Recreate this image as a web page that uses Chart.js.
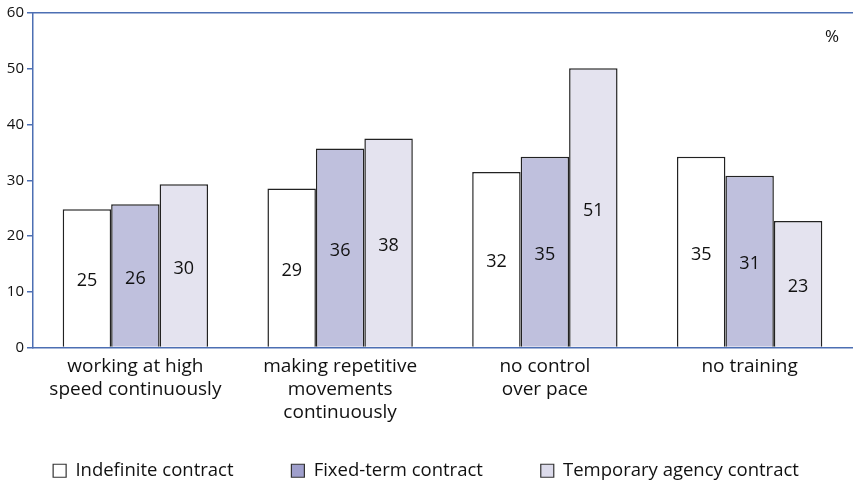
<!DOCTYPE html>
<html>
<head>
<meta charset="utf-8">
<script src="https://cdn.jsdelivr.net/npm/chart.js@4/dist/chart.umd.min.js"></script>
<style>
  html, body { margin: 0; padding: 0; background: #fff; }
  #wrap { width: 854px; height: 486px; }
</style>
</head>
<body>
<div id="wrap"><canvas id="bars"></canvas></div>
<script>
const categories = [
  ['working at high', 'speed continuously'],
  ['making repetitive', 'movements', 'continuously'],
  ['no control', 'over pace'],
  ['no training']
];
const seriesNames = ['Indefinite contract', 'Fixed-term contract', 'Temporary agency contract'];
// bar heights as drawn
const indefinite = [24.8, 28.5, 31.5, 34.2];
const fixedTerm = [25.7, 35.7, 34.2, 30.8];
const agency = [29.3, 37.5, 50.1, 22.7];
// printed values inside the bars
const indefiniteLabels = [25, 29, 32, 35];
const fixedTermLabels = [26, 36, 35, 31];
const agencyLabels = [30, 38, 51, 23];
const yTicks = [0, 10, 20, 30, 40, 50, 60];

const font = '"Open Sans", "Noto Sans", sans-serif';
const axisBlue = '#4d6fb3';
const legendFills = ['#ffffff', '#9f9fcc', '#dcdbeb'];

// numbers in the middle of each bar, and the % sign
const valueLabels = {
  id: 'valueLabels',
  afterDatasetsDraw(chart) {
    const ctx = chart.ctx;
    ctx.save();
    ctx.fillStyle = '#111';
    ctx.font = '18px ' + font;
    ctx.textAlign = 'center';
    ctx.textBaseline = 'middle';
    chart.data.datasets.forEach((ds, i) => {
      chart.getDatasetMeta(i).data.forEach((bar, j) => {
        const p = bar.getProps(['x', 'y', 'base'], true);
        ctx.fillText(String(ds.printed[j]), p.x, (p.y + p.base) / 2 + 3);
      });
    });
    ctx.font = '17px ' + font;
    ctx.textAlign = 'right';
    ctx.fillText('%', chart.chartArea.right - 13, chart.chartArea.top + 24);
    ctx.restore();
  }
};

new Chart(document.getElementById('bars'), {
  type: 'bar',
  data: {
    labels: categories,
    datasets: [{
      label: seriesNames[0],
      data: indefinite,
      printed: indefiniteLabels,
      backgroundColor: '#ffffff'
    }, {
      label: seriesNames[1],
      data: fixedTerm,
      printed: fixedTermLabels,
      backgroundColor: '#bfc0dd'
    }, {
      label: seriesNames[2],
      data: agency,
      printed: agencyLabels,
      backgroundColor: '#e4e3ef'
    }]
  },
  options: {
    responsive: true,
    maintainAspectRatio: false,
    animation: false,
    layout: { padding: { top: 13, right: 2, left: 0, bottom: -4 } },
    datasets: {
      bar: {
        borderColor: '#222',
        borderWidth: 1.5,
        categoryPercentage: 0.71,
        barPercentage: 1
      }
    },
    plugins: {
      tooltip: { enabled: false },
      legend: {
        position: 'bottom',
        labels: {
          color: '#111',
          font: { family: font, size: 18.5 },
          boxWidth: 13,
          boxHeight: 13,
          padding: 5,
          generateLabels(chart) {
            // extra trailing space widens the gap between legend entries
            return chart.data.datasets.map((ds, i) => ({
              text: i < chart.data.datasets.length - 1 ? ds.label + '           ' : ds.label,
              fillStyle: legendFills[i],
              strokeStyle: '#333',
              lineWidth: 1.2,
              fontColor: '#111',
              datasetIndex: i,
              hidden: false
            }));
          }
        }
      }
    },
    scales: {
      x: {
        grid: { display: false, drawTicks: false },
        border: { color: axisBlue, width: 1.5 },
        ticks: {
          color: '#111',
          font: { family: font, size: 19, lineHeight: 1.21 },
          padding: 8,
          maxRotation: 0,
          autoSkip: false
        },
        afterFit(scale) { scale.height = 109; }
      },
      top: {
        position: 'top',
        grid: { display: false },
        border: { color: axisBlue, width: 1.5 },
        ticks: { display: false },
        afterFit(scale) { scale.height = 0; }
      },
      y: {
        min: 0,
        max: 60,
        afterBuildTicks(scale) { scale.ticks = yTicks.map(v => ({ value: v })); },
        grid: { drawOnChartArea: false, color: axisBlue, tickLength: 6, lineWidth: 1.5 },
        border: { color: axisBlue, width: 1.5 },
        ticks: {
          color: '#111',
          font: { family: font, size: 15 },
          padding: 3
        },
        afterFit(scale) { scale.width = 33; }
      }
    }
  },
  plugins: [valueLabels]
});
</script>
</body>
</html>
